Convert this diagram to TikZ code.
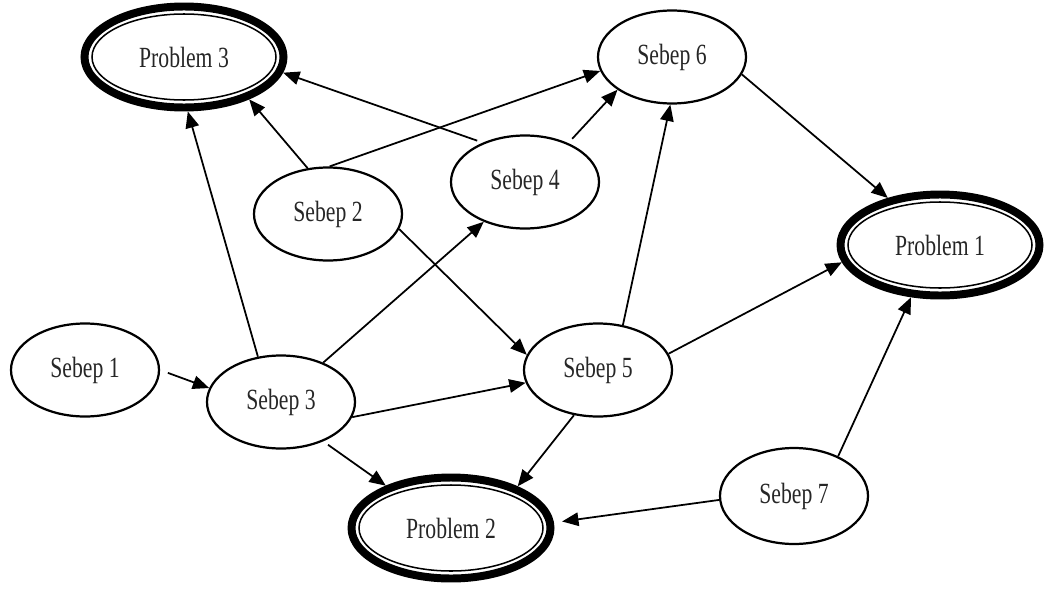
\documentclass[tikz,border=0pt]{standalone}
\usepackage{fontspec}
\setmainfont{Liberation Serif}[FakeStretch=0.74]
\usetikzlibrary{shapes.geometric, arrows.meta}
\newlength\pxu
\setlength\pxu{0.03cm}
\begin{document}
\begin{tikzpicture}[x=0.03cm, y=-0.03cm,
  label font/.style={font=\fontsize{25}{29}\selectfont, text=black!85},
  cause/.style={ellipse, draw, line width=1.9pt, inner sep=0pt,
    minimum width=148\pxu, minimum height=93\pxu, label font},
  problem/.style={ellipse, draw, line width=6.8pt, inner sep=0pt,
    minimum width=199\pxu, minimum height=101\pxu, label font},
  ring/.style={line width=1.3pt},
  edge/.style={line width=1.5pt, -{Triangle[length=14pt, width=11.5pt]}}]
\useasboundingbox (0,0) rectangle (1044,588);

% problems (double ring) and causes
\node[problem] (p3) at (184,57)  {Problem 3};
\node[cause]   (s6) at (672,57)  {Sebep 6};
\node[cause]   (s4) at (525,182) {Sebep 4};
\node[cause]   (s2) at (328,214) {Sebep 2};
\node[problem] (p1) at (940,245) {Problem 1};
\node[cause]   (s1) at (85,370)  {Sebep 1};
\node[cause]   (s3) at (281,402) {Sebep 3};
\node[cause]   (s5) at (598,370) {Sebep 5};
\node[problem] (p2) at (451,528) {Problem 2};
\node[cause, minimum height=96\pxu] (s7) at (794,496) {Sebep 7};

% thin inner ring of each problem
\foreach \p in {p1,p2,p3}
  \draw[ring] (\p.center) ellipse [x radius=92\pxu, y radius=43\pxu];

% cause-effect links
\draw[edge, shorten <=5pt] (s4.137) -- (p3.-9);
\draw[edge] (s2.114) -- (p3.-33);
\draw[edge] (s3.117) -- (p3.-86);
\draw[edge] (s2.88)  -- (s6.191);
\draw[edge, shorten <=5pt] (s4.42) -- (s6.211);
\draw[edge] (s6.-14) -- (p1.138);
\draw[edge] (s2.-12) -- (s5.168);
\draw[edge] (s3.43)  -- (s4.224);
\draw[edge] (s5.61)  -- (s6.268);
\draw[edge] (s5.13)  -- (p1.190);
\draw[edge, shorten <=7pt] (s1.0) -- (s3.169);
\draw[edge] (s3.-12) -- (s5.190);
\draw[edge, shorten <=5pt] (s3.-43) -- (p2.147);
\draw[edge] (s5.242) -- (p2.32);
\draw[edge, shorten >=7pt] (s7.183) -- (p2.3);
\draw[edge] (s7.42)  -- (p1.241);
\end{tikzpicture}
\end{document}
